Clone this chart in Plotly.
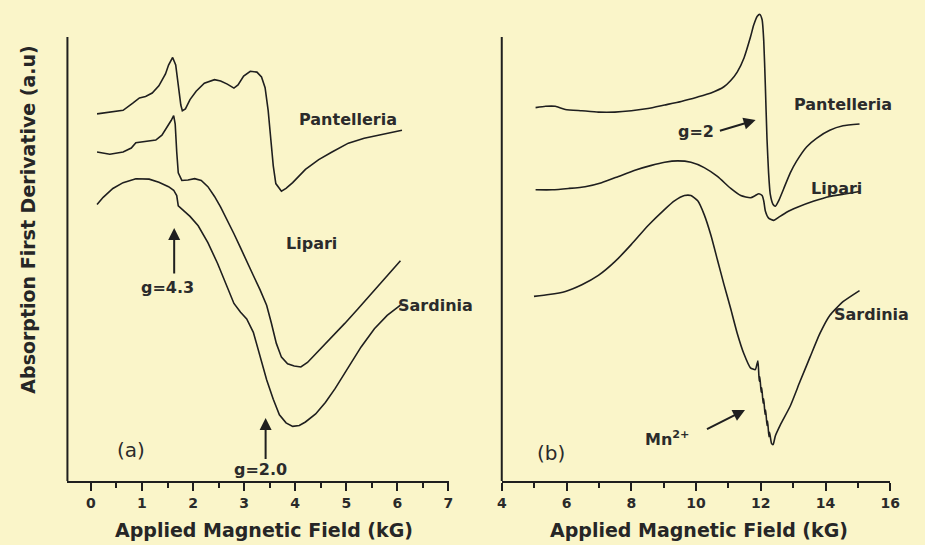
import plotly.graph_objects as go

INK = "#1f1f1f"
BG = "#faf5c9"
FONT = "DejaVu Sans"

# ---------------- Panel (a) : X-band spectra ----------------
a_pan_x = [0.12, 0.43, 0.63, 0.82, 0.95, 1.07, 1.20, 1.33, 1.46, 1.52, 1.60, 1.66, 1.71, 1.76, 1.79, 1.85, 1.94, 2.06, 2.22, 2.42,
           2.54, 2.67, 2.80, 2.88, 2.99, 3.12, 3.25, 3.34, 3.41, 3.47, 3.52, 3.57, 3.62, 3.73, 3.82, 3.95, 4.20, 4.46, 4.72, 5.04,
           5.35, 5.67, 6.09]
a_pan_y = [82.7, 83.1, 83.5, 85.1, 86.3, 86.6, 87.4, 89.0, 91.7, 93.7, 95.4, 93.7, 89.0, 84.7, 83.4, 83.8, 85.9, 87.8, 89.6, 90.4,
           90.1, 89.4, 88.5, 89.2, 91.2, 92.3, 92.1, 91.0, 88.6, 83.5, 77.2, 71.0, 67.0, 65.3, 65.9, 67.2, 70.2, 72.4, 74.1, 76.1,
           77.2, 78.0, 79.0]

a_lip_x = [0.12, 0.37, 0.63, 0.79, 0.88, 1.07, 1.27, 1.39, 1.49, 1.57, 1.62, 1.65, 1.68, 1.71, 1.78, 1.90, 2.03, 2.16, 2.29, 2.42,
           2.54, 2.67, 2.80, 2.93, 3.05, 3.18, 3.31, 3.44, 3.53, 3.63, 3.73, 3.85, 3.98, 4.11, 4.24, 4.40, 4.59, 4.78, 4.97, 5.23,
           5.48, 5.74, 6.06]
a_lip_y = [74.1, 73.6, 74.1, 75.0, 76.2, 76.5, 76.8, 77.9, 79.6, 81.2, 82.3, 80.4, 74.1, 69.4, 67.7, 67.8, 68.1, 67.7, 66.3, 64.1,
           61.7, 58.8, 55.7, 52.5, 49.4, 46.3, 43.1, 39.6, 35.7, 31.0, 27.9, 26.4, 25.9, 25.7, 26.7, 28.6, 31.0, 33.3, 35.5, 38.8,
           42.0, 45.5, 49.6]

a_sar_x = [0.12, 0.24, 0.43, 0.63, 0.88, 1.14, 1.33, 1.52, 1.62, 1.68, 1.71, 1.81, 1.94, 2.10, 2.29, 2.48, 2.67, 2.80, 2.93, 3.05,
           3.18, 3.31, 3.44, 3.57, 3.69, 3.82, 3.95, 4.08, 4.20, 4.40, 4.59, 4.78, 5.04, 5.29, 5.55, 5.80, 6.06]
a_sar_y = [62.3, 63.9, 65.9, 67.2, 68.1, 68.0, 67.3, 66.3, 65.5, 64.3, 62.0, 60.9, 59.6, 57.5, 53.7, 49.0, 43.7, 40.0, 38.0, 36.5,
           33.5, 28.2, 22.8, 18.4, 14.9, 13.1, 12.3, 12.5, 13.3, 15.1, 17.7, 20.8, 25.5, 30.2, 34.3, 37.3, 39.6]

# ---------------- Panel (b) : Q-band spectra ----------------
b_pan_x = [5.04, 5.35, 5.65, 5.96, 6.47, 6.98, 7.49, 8.00, 8.51, 9.03, 9.54, 10.05, 10.46, 10.86, 11.07, 11.27, 11.48, 11.68, 11.78,
           11.89, 11.97, 12.04, 12.09, 12.14, 12.19, 12.24, 12.29, 12.38, 12.45, 12.55, 12.71, 12.91, 13.11, 13.42, 13.72, 14.13,
           14.54, 15.05]
b_pan_y = [84.1, 84.4, 84.4, 83.7, 83.4, 83.1, 83.1, 83.4, 83.9, 84.7, 85.5, 86.5, 87.4, 88.8, 90.2, 92.1, 95.3, 100.0, 102.7,
           104.7, 105.1, 103.9, 99.2, 89.0, 77.2, 69.4, 64.7, 62.3, 61.9, 63.1, 65.9, 69.4, 72.1, 75.3, 77.2, 79.0,
           80.0, 80.4]

b_lip_x = [5.04, 5.55, 6.06, 6.57, 7.08, 7.60, 8.11, 8.62, 9.03, 9.43, 9.84, 10.25, 10.66, 11.07, 11.38, 11.68, 11.83, 11.94, 12.04,
           12.09, 12.14, 12.24, 12.40, 12.55, 12.81, 13.11, 13.62, 14.13, 14.64, 15.05]
b_lip_y = [65.6, 65.6, 65.9, 66.3, 67.2, 68.6, 70.0, 71.1, 71.8, 72.1, 71.8, 70.6, 68.6, 65.9, 64.3, 63.8, 64.3, 64.7, 64.3,
           63.1, 60.8, 59.2, 58.7, 59.4, 60.6, 61.6, 63.0, 64.1, 64.7, 65.2]

b_sar_x = [4.99, 5.45, 5.96, 6.47, 6.98, 7.49, 8.00, 8.51, 9.03, 9.33, 9.64, 9.84, 10.05, 10.25, 10.46, 10.66, 10.86, 11.07, 11.27,
           11.48, 11.68, 11.83, 11.91, 11.95, 11.97, 12.01, 12.03, 12.07, 12.09, 12.13, 12.15, 12.19, 12.21, 12.25, 12.27, 12.33,
           12.38, 12.45, 12.60, 12.91, 13.21, 13.52, 13.83, 14.13, 14.54, 15.05]
b_sar_y = [41.6, 42.0, 42.7, 44.2, 46.3, 49.4, 53.3, 57.5, 61.2, 63.1, 64.3, 64.3, 63.1, 60.0, 55.3, 49.8, 44.3, 38.8, 33.3,
           28.6, 25.5, 25.1, 27.1, 22.5, 23.5, 20.0, 21.0, 17.5, 18.5, 15.0, 16.0, 12.5, 13.5, 10.0, 11.0, 8.5,
           8.2, 10.2, 12.6, 16.9, 22.4, 27.9, 33.3, 37.3, 40.4, 42.9]

a_ticks = [0, 1, 2, 3, 4, 5, 6, 7]
b_ticks = [4, 6, 8, 10, 12, 14, 16]
x_title = "Applied Magnetic Field (kG)"
y_title = "Absorption First Derivative (a.u)"

fig = go.Figure()
for xs, ys in [(a_pan_x, a_pan_y), (a_lip_x, a_lip_y), (a_sar_x, a_sar_y)]:
    fig.add_trace(go.Scatter(x=xs, y=ys, mode="lines", line=dict(color=INK, width=1.6),
                             xaxis="x", yaxis="y", hoverinfo="skip", showlegend=False))
for xs, ys in [(b_pan_x, b_pan_y), (b_lip_x, b_lip_y), (b_sar_x, b_sar_y)]:
    fig.add_trace(go.Scatter(x=xs, y=ys, mode="lines",
                             line=dict(color=INK, width=1.6, shape="spline", smoothing=0.5),
                             xaxis="x2", yaxis="y2", hoverinfo="skip", showlegend=False))

tickfont = dict(family=FONT, size=14, color="#2a2a2a", weight="bold")
common_x = dict(showline=True, linewidth=2, linecolor=INK, ticks="outside", ticklen=8, tickwidth=2,
                tickcolor=INK, showgrid=False, zeroline=False, tickfont=tickfont)
common_y = dict(showline=False, showticklabels=False, ticks="", showgrid=False, zeroline=False,
                domain=[0.1174, 0.9817], range=[0, 106.1])

fig.update_layout(
    width=925, height=545, margin=dict(l=0, r=0, t=0, b=0),
    paper_bgcolor=BG, plot_bgcolor=BG, showlegend=False,
    xaxis=dict(domain=[0.0686, 0.4876], range=[-0.46, 7.005], tickmode="array", tickvals=a_ticks,
               ticktext=[str(t) for t in a_ticks],
               minor=dict(ticks="outside", ticklen=5, tickwidth=2, tickcolor=INK, dtick=0.5, tick0=0, showgrid=False),
               anchor="y", **common_x),
    yaxis=dict(anchor="x", **common_y),
    xaxis2=dict(domain=[0.5459, 0.9730], range=[3.995, 16.005], tickmode="array", tickvals=b_ticks,
                ticktext=[str(t) for t in b_ticks],
                minor=dict(ticks="outside", ticklen=5, tickwidth=2, tickcolor=INK, dtick=1, tick0=4, showgrid=False),
                anchor="y2", **common_x),
    yaxis2=dict(anchor="x2", **common_y),
)

# vertical axis lines (curves may rise above them in panel b)
fig.add_shape(type="line", xref="x domain", yref="y", x0=0, x1=0, y0=0, y1=100, line=dict(color=INK, width=2))
fig.add_shape(type="line", xref="x2 domain", yref="y2", x0=0, x1=0, y0=0, y1=100, line=dict(color=INK, width=2))

lab = dict(family=FONT, size=16, color="#2b2b2b", weight="bold")
big = dict(family=FONT, size=20, color="#2b2b2b")
ann = []
# panel (a) labels
ann += [
    dict(x=5.04, y=81.5, xref="x", yref="y", text="Pantelleria", showarrow=False, font=lab),
    dict(x=4.32, y=53.4, xref="x", yref="y", text="Lipari", showarrow=False, font=lab),
    dict(x=5.98, y=39.6, xref="x", yref="y", text="Sardinia", showarrow=False, font=lab, xanchor="left"),
    dict(x=1.49, y=43.5, xref="x", yref="y", text="g=4.3", showarrow=False, font=lab),
    dict(x=3.32, y=2.7, xref="x", yref="y", text="g=2.0", showarrow=False, font=lab),
    dict(x=0.78, y=7.0, xref="x", yref="y", text="(a)", showarrow=False, font=big),
    dict(x=1.63, y=57.0, ax=1.63, ay=46.4, xref="x", yref="y", axref="x", ayref="y", text="", showarrow=True,
         arrowhead=2, arrowsize=1.2, arrowwidth=2, arrowcolor=INK),
    dict(x=3.42, y=14.2, ax=3.42, ay=4.6, xref="x", yref="y", axref="x", ayref="y", text="", showarrow=True,
         arrowhead=2, arrowsize=1.2, arrowwidth=2, arrowcolor=INK),
]
# panel (b) labels
ann += [
    dict(x=14.55, y=84.7, xref="x2", yref="y2", text="Pantelleria", showarrow=False, font=lab),
    dict(x=14.33, y=66.0, xref="x2", yref="y2", text="Lipari", showarrow=False, font=lab),
    dict(x=15.43, y=37.6, xref="x2", yref="y2", text="Sardinia", showarrow=False, font=lab),
    dict(x=9.99, y=78.8, xref="x2", yref="y2", text="g=2", showarrow=False, font=lab),
    dict(x=9.11, y=9.5, xref="x2", yref="y2", text="Mn<sup>2+</sup>", showarrow=False, font=lab),
    dict(x=5.52, y=6.3, xref="x2", yref="y2", text="(b)", showarrow=False, font=big),
    dict(x=11.84, y=81.3, ax=10.69, ay=78.8, xref="x2", yref="y2", axref="x2", ayref="y2", text="", showarrow=True,
         arrowhead=2, arrowsize=1.2, arrowwidth=2, arrowcolor=INK),
    dict(x=11.51, y=16.0, ax=10.29, ay=11.5, xref="x2", yref="y2", axref="x2", ayref="y2", text="", showarrow=True,
         arrowhead=2, arrowsize=1.2, arrowwidth=2, arrowcolor=INK),
]
# axis titles
ttl = dict(family=FONT, size=19, color="#262626", weight="bold")
ann += [
    dict(x=0.2843, y=0.0275, xref="paper", yref="paper", text=x_title, showarrow=False, font=ttl,
         xanchor="center", yanchor="middle"),
    dict(x=0.7622, y=0.0275, xref="paper", yref="paper", text=x_title, showarrow=False, font=ttl,
         xanchor="center", yanchor="middle"),
    dict(x=0.0249, y=0.5963, xref="paper", yref="paper", text=y_title, showarrow=False, font=ttl, textangle=-90,
         xanchor="center", yanchor="middle"),
]
fig.update_layout(annotations=ann)

fig.write_html("out.html", config={"displayModeBar": False},
               post_script="document.body.style.margin='0px';document.body.style.background='%s';" % BG)
